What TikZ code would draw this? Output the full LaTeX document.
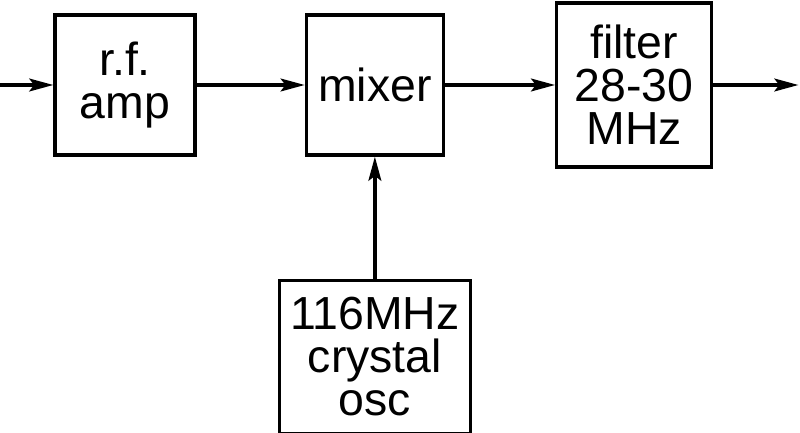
\documentclass[tikz,border=0pt]{standalone}
\usepackage{fontspec}
\setmainfont{Liberation Sans}
\usetikzlibrary{arrows.meta,positioning}

\begin{document}
\begin{tikzpicture}[
    node distance=1cm,
    block/.style={rectangle, draw, line width=2.4pt, inner sep=0pt, align=center,
                  font=\fontsize{33}{30.5}\selectfont},
    arrow/.style={-{Stealth[length=0.6cm,width=0.32cm,inset=0.12cm]}, line width=2.4pt}
]
\useasboundingbox (0,0) rectangle (20,10.825);

% Signal chain
\node[block, minimum width=3.5cm, minimum height=3.5cm] (rf_amp) at (3.125,8.7) {r.f.\\amp};
\node[block, minimum width=3.425cm, minimum height=3.5cm, right=2.7cm of rf_amp] (mixer) {mixer};
\node[block, minimum width=3.875cm, minimum height=4.1cm, right=2.75cm of mixer] (filter) {filter\\28-30\\MHz};

% Local oscillator
\node[block, minimum width=4.775cm, minimum height=3.825cm, below=3.05cm of mixer] (osc) {116MHz\\crystal\\osc};

% In and out
\coordinate[left=1.375cm of rf_amp] (sig_in);
\coordinate[right=2.125cm of filter] (sig_out);

% Arrows
\draw[arrow] (sig_in) -- (rf_amp);
\draw[arrow] (rf_amp) -- (mixer);
\draw[arrow] (mixer) -- (filter);
\draw[arrow] (filter) -- (sig_out);
\draw[arrow] (osc) -- (mixer);

\end{tikzpicture}
\end{document}
